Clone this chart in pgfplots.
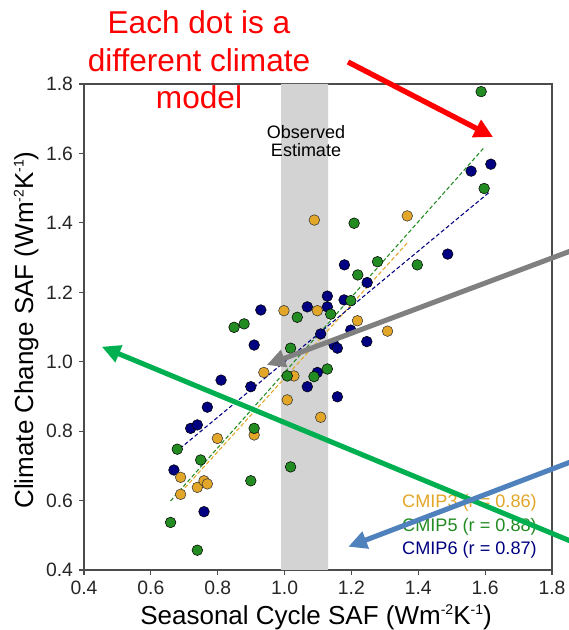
\documentclass[border=0pt]{standalone}
\usepackage{pgfplots}
\pgfplotsset{compat=1.18}
\usepackage{fontspec}
\setmainfont{Liberation Sans}
\usetikzlibrary{arrows.meta}
\definecolor{c3}{RGB}{226,166,40}
\definecolor{c5}{RGB}{34,139,34}
\definecolor{c6}{RGB}{0,0,128}
\definecolor{bandgray}{RGB}{211,211,211}
\definecolor{arrred}{RGB}{255,0,0}
\definecolor{arrgray}{RGB}{128,128,128}
\definecolor{arrgreen}{RGB}{0,176,80}
\definecolor{arrblue}{RGB}{79,129,189}
\newcommand\sups[1]{\raisebox{0.36em}{\fontsize{10.5}{10.5}\selectfont #1}}

\pgfplotstableread{
x y
0.689 0.618
0.689 0.667
0.739 0.638
0.759 0.657
0.769 0.648
0.799 0.779
0.909 0.789
0.938 0.969
0.998 1.147
1.008 0.890
1.028 0.959
1.089 1.408
1.098 1.147
1.108 0.840
1.218 1.118
1.308 1.088
1.367 1.420
}\cmipthree

\pgfplotstableread{
x y
0.659 0.537
0.679 0.748
0.739 0.457
0.749 0.717
0.849 1.099
0.879 1.109
0.899 0.657
0.909 0.808
1.008 0.959
1.018 1.039
1.018 0.697
1.038 1.128
1.088 0.957
1.128 0.979
1.138 1.137
1.198 1.176
1.208 1.399
1.219 1.250
1.278 1.288
1.397 1.279
1.588 1.778
1.597 1.499
}\cmipfive

\pgfplotstableread{
x y
0.669 0.688
0.719 0.808
0.739 0.818
0.759 0.568
0.769 0.869
0.810 0.947
0.899 0.928
0.909 1.048
0.929 1.149
1.068 1.158
1.068 0.928
1.098 0.969
1.108 1.080
1.128 1.189
1.128 1.158
1.148 1.048
1.158 1.039
1.158 0.899
1.178 1.178
1.179 1.279
1.198 1.091
1.247 1.228
1.246 1.058
1.488 1.310
1.558 1.549
1.617 1.569
}\cmipsix

\begin{document}
\begin{tikzpicture}
\begin{axis}[
  at={(63pt,45pt)}, anchor=south west,
  scale only axis, width=351pt, height=364.5pt,
  xmin=0.4, xmax=1.8, ymin=0.4, ymax=1.8,
  xtick={0.4,0.6,0.8,1.0,1.2,1.4,1.6,1.8},
  ytick={0.4,0.6,0.8,1.0,1.2,1.4,1.6,1.8},
  xtick pos=bottom, ytick pos=left,
  tick align=outside, major tick length=3.75pt,
  axis line style={black!70, line width=1pt},
  every tick/.style={black!70, line width=0.9pt},
  /pgf/number format/.cd, fixed, fixed zerofill, precision=1, assume math mode=true,
  /pgfplots/.cd,
  ticklabel style={font=\fontsize{14.5}{17}\selectfont, text=black!85},
  xticklabel style={yshift=-1pt},
  yticklabel style={xshift=-1pt},
  clip=true,
]
\addplot[draw=none, fill=bandgray, forget plot] coordinates {(0.99,0.4) (0.99,1.8) (1.13,1.8) (1.13,0.4) (0.99,0.4)};
\addplot[only marks, mark=*, mark size=4pt, mark options={fill=c6, draw=black, line width=0.4pt}] table {\cmipsix};
\addplot[only marks, mark=*, mark size=4pt, mark options={fill=c3, draw=black!80, line width=0.4pt}] table {\cmipthree};
\addplot[only marks, mark=*, mark size=4pt, mark options={fill=c5, draw=black, line width=0.4pt}] table {\cmipfive};
\addplot[c3, line width=0.8pt, dash pattern=on 3pt off 1.8pt] coordinates {(0.689,0.623) (1.368,1.343)};
\addplot[c5, line width=0.8pt, dash pattern=on 3pt off 1.8pt] coordinates {(0.659,0.599) (1.597,1.617)};
\addplot[c6, line width=0.8pt, dash pattern=on 3pt off 1.8pt] coordinates {(0.672,0.738) (1.611,1.487)};
\end{axis}
\begin{scope}[x=0.75pt, y=-0.75pt, shift={(0pt,472.5pt)}]
  % observed estimate
  \node[font=\fontsize{13.5}{16}\selectfont, align=center, inner sep=0pt] at (306,141) {Observed\\[-2pt]Estimate};
  % labels
  \node[font=\fontsize{19.5}{23}\selectfont, anchor=base, inner sep=0pt] at (316,624) {Seasonal Cycle SAF (Wm\sups{-2}K\sups{-1})};
  \node[font=\fontsize{19.5}{23}\selectfont, anchor=base, rotate=90, inner sep=0pt] at (33,330) {Climate Change SAF (Wm\sups{-2}K\sups{-1})};
  % legend-like text
  \node[font=\fontsize{13.6}{16}\selectfont, anchor=east, text=c3, inner sep=0pt] at (537,502.7) {CMIP3 (r = 0.86)};
  \node[font=\fontsize{13.6}{16}\selectfont, anchor=east, text=c5, inner sep=0pt] at (537,526.5) {CMIP5 (r = 0.88)};
  \node[font=\fontsize{13.6}{16}\selectfont, anchor=east, text=c6, inner sep=0pt] at (537,549.5) {CMIP6 (r = 0.87)};
  % red text
  \node[font=\fontsize{23.7}{28}\selectfont, anchor=base, text=arrred, inner sep=0pt] at (199,34) {Each dot is a};
  \node[font=\fontsize{23.7}{28}\selectfont, anchor=base, text=arrred, inner sep=0pt] at (199,72) {different climate};
  \node[font=\fontsize{23.7}{28}\selectfont, anchor=base, text=arrred, inner sep=0pt] at (199,109) {model};
  % arrows
  \draw[arrred, line width=4pt, -{Triangle[length=14pt,width=14pt]}] (348,62) -- (493,137);
  \draw[arrgray, line width=3.8pt, -{Triangle[length=14pt,width=13pt]}] (580,247.5) -- (266.7,365);
  \draw[arrgreen, line width=3.8pt, -{Triangle[length=14pt,width=13pt]}] (580,545) -- (101.7,346.7);
  \draw[arrblue, line width=3.8pt, -{Triangle[length=14pt,width=13pt]}] (580,458.4) -- (348.3,546.7);
\end{scope}
\pgfresetboundingbox
\path[use as bounding box] (0pt,0pt) rectangle (426pt,472.5pt);
\end{tikzpicture}
\end{document}
